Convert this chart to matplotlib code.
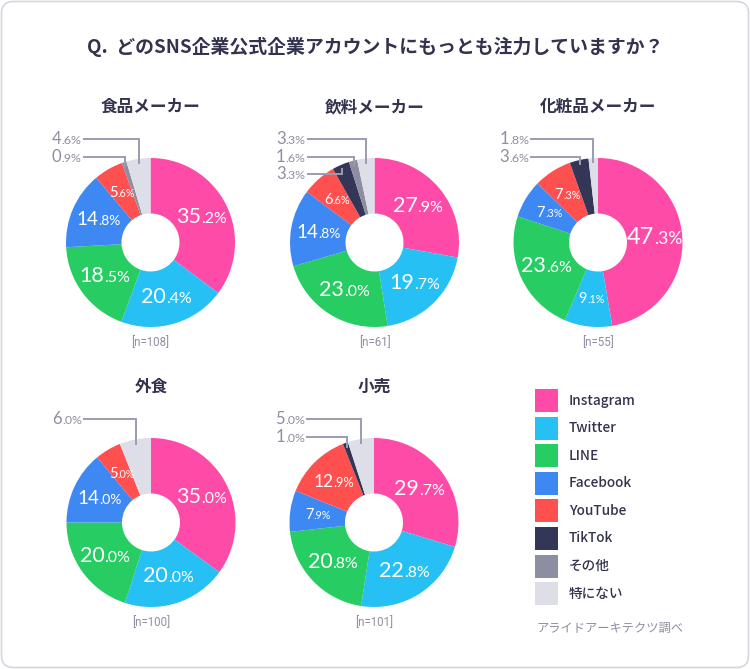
import matplotlib
matplotlib.use("Agg")
import matplotlib.pyplot as plt
import numpy as np
from matplotlib.patches import FancyBboxPatch
from matplotlib.offsetbox import TextArea, HPacker, AnnotationBbox

plt.rcParams['font.family'] = ['Noto Sans CJK JP', 'DejaVu Sans']

# data
platforms = ["Instagram", "Twitter", "LINE", "Facebook", "YouTube", "TikTok", "その他", "特にない"]
colors = ["#fe4ba8", "#27c0f4", "#27cd62", "#3d88f2", "#ff5050", "#343657", "#8e8ea3", "#dedee8"]

sectors = ["食品メーカー", "飲料メーカー", "化粧品メーカー", "外食", "小売"]
sample_sizes = [108, 61, 55, 100, 101]

food = [35.2, 20.4, 18.5, 14.8, 5.6, 0.0, 0.9, 4.6]
drinks = [27.9, 19.7, 23.0, 14.8, 6.6, 3.3, 1.6, 3.3]
cosmetics = [47.3, 9.1, 23.6, 7.3, 7.3, 3.6, 0.0, 1.8]
restaurants = [35.0, 20.0, 20.0, 14.0, 5.0, 0.0, 0.0, 6.0]
retail = [29.7, 22.8, 20.8, 7.9, 12.9, 1.0, 0.0, 5.0]
all_values = [food, drinks, cosmetics, restaurants, retail]

title = "Q.  どのSNS企業公式企業アカウントにもっとも注力していますか？"
source = "アライドアーキテクツ調べ"

W, H = 750, 669
R = 84.5
HOLE = 29
centers = [(150.5, 242.5), (374.5, 242.5), (598, 242.5), (151, 522.5), (374, 522.5)]

NAVY = "#33334f"
GRAY = "#8e8ea3"
num_font = ['Lato', 'DejaVu Sans']


def pct_label(ax, txt, xy, size, color, align=(0.5, 0.5), weight='normal'):
    whole, dec = txt.split(".")
    p1 = TextArea(whole, textprops=dict(fontsize=size, color=color, family=num_font, weight=weight))
    p2 = TextArea("." + dec + "%", textprops=dict(fontsize=size * 0.74, color=color, family=num_font, weight=weight))
    box = HPacker(children=[p1, p2], align="baseline", pad=0, sep=0)
    ab = AnnotationBbox(box, xy, frameon=False, box_alignment=align, pad=0, zorder=5)
    ax.add_artist(ab)


def inner_size(v):
    if v >= 40:
        return 17
    if v >= 18:
        return 15.5
    if v >= 14:
        return 13.5
    if v >= 10:
        return 12.5
    return 10.5


fig = plt.figure(figsize=(W / 100, H / 100), dpi=100)
ax = fig.add_axes([0, 0, 1, 1])

for (cx, cy_px), name, n, vals in zip(centers, sectors, sample_sizes, all_values):
    cy = H - cy_px
    wedges, _ = ax.pie(vals, colors=colors, startangle=90, counterclock=False,
                       radius=R, center=(cx, cy),
                       wedgeprops=dict(width=R - HOLE, linewidth=0))
    ax.text(cx, cy + R + 51, name, ha='center', va='center', fontsize=12,
            weight='bold', color=NAVY)
    ax.text(cx, cy - R - 16, f"[n={n}]", ha='center', va='center', fontsize=8.3,
            color=GRAY, family=['Roboto', 'DejaVu Sans'])

    rmid = (R + HOLE) / 2
    row = 0
    for i in [7, 6, 5]:
        if vals[i] <= 0:
            continue
        w = wedges[i]
        th = np.deg2rad((w.theta1 + w.theta2) / 2)
        ex, ey = cx + 0.95 * R * np.cos(th), cy + 0.95 * R * np.sin(th)
        ly = cy + 103.5 - row * 17.5
        ax.plot([cx - 67, ex, ex], [ly, ly, ey], color="#9c9cb0", lw=1.4,
                solid_joinstyle='miter', zorder=4)
        pct_label(ax, f"{vals[i]:.1f}", (cx - 69, ly), 12, GRAY, align=(1, 0.5))
        row += 1

    for i in range(5):
        v = vals[i]
        if v <= 0:
            continue
        w = wedges[i]
        th = np.deg2rad((w.theta1 + w.theta2) / 2)
        pct_label(ax, f"{v:.1f}", (cx + rmid * np.cos(th), cy + rmid * np.sin(th)),
                  inner_size(v), "white")

# legend
for k, (p, c) in enumerate(zip(platforms, colors)):
    y0 = H - (389 + k * 27.6)
    ax.add_patch(plt.Rectangle((535, y0 - 23), 23, 23, color=c, lw=0))
    ax.text(569, y0 - 11.5, p, ha='left', va='center', fontsize=9.8,
            color=NAVY, weight='medium')
ax.text(536, H - 628, source, ha='left', va='center', fontsize=8.8, color=GRAY)

ax.text(W / 2, H - 47, title, ha='center', va='center', fontsize=13.6,
        weight='bold', color=NAVY)

ax.add_patch(FancyBboxPatch((1.5, 1.5), W - 3, H - 3, boxstyle="round,pad=0,rounding_size=12",
                            fc='none', ec='#d6d6e0', lw=1.2, zorder=0))

ax.set_xlim(0, W)
ax.set_ylim(0, H)
ax.set_aspect('auto')
ax.axis('off')

fig.savefig("out.png", dpi=100)
